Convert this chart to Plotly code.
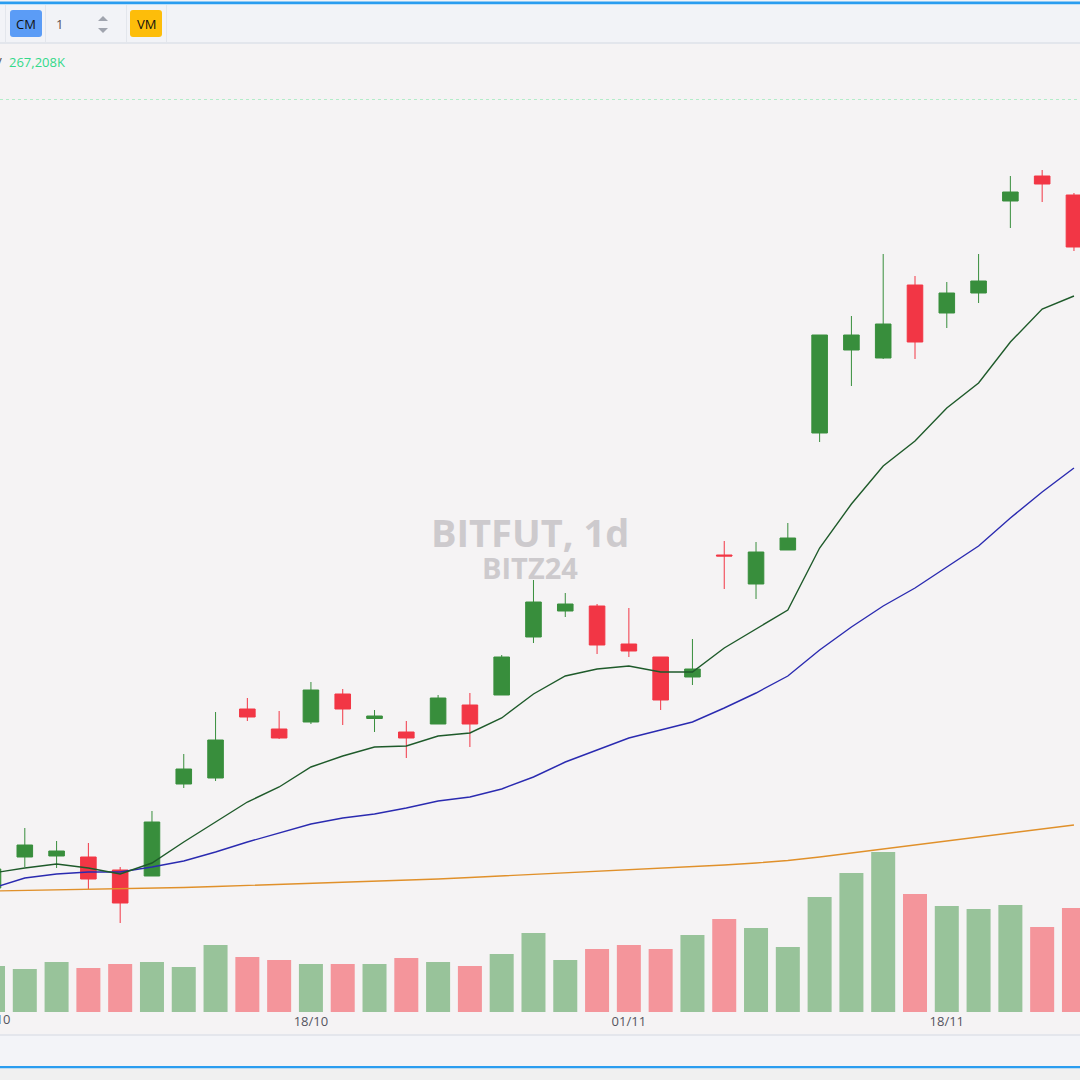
import plotly.graph_objects as go

# ---------------- data (price in arbitrary chart units) ----------------
dates = ["04/10", "07/10", "08/10", "09/10", "10/10", "11/10", "14/10", "15/10", "16/10", "17/10",
         "18/10", "21/10", "22/10", "23/10", "24/10", "25/10", "28/10", "29/10", "30/10", "31/10",
         "01/11", "04/11", "05/11", "06/11", "07/11", "08/11", "11/11", "12/11", "13/11", "14/11",
         "18/11", "19/11", "21/11", "22/11", "25/11"]

opens = [112, 143, 144, 143, 130, 124, 216, 222, 291, 271,
         278, 306, 281.5, 268, 276, 295, 305, 363, 389, 394,
         356, 343, 323, 445, 416, 450, 567, 650, 642, 715,
         687, 707, 799, 824, 805]
highs = [135, 172, 159, 157, 133, 189, 246, 288, 302, 289,
         318, 311, 290, 279, 305, 307, 345, 420, 407, 396,
         392, 343, 361, 459, 458, 477, 665, 684, 746, 724,
         718, 746, 824, 830, 807]
lows = [110, 133, 132, 111, 77, 124, 212, 219, 279, 261,
        276, 275, 268, 242, 276, 253, 305, 357, 383, 346,
        343, 290, 315, 411, 401, 450, 558, 614, 641, 641,
        672, 697, 772, 798, 749]
closes = [131, 155, 149, 121, 97, 178, 231, 260, 283, 262,
          310, 291, 284, 262, 302, 276, 343, 398, 396, 355,
          349, 300, 331, 444, 448, 462, 665, 665, 676, 658,
          707, 719, 808, 816, 753]

volumes_k = [118200, 110500, 128400, 113000, 123300, 128400, 115600, 172100, 141300, 133600,
             123300, 123300, 123300, 138700, 128400, 118200, 149000, 203000, 133600, 161800,
             172100, 161800, 197800, 238900, 215800, 167000, 295400, 357100, 411000, 303100,
             272300, 264600, 274900, 218400, 267208]

ma_short = [127, 132, 136, 132, 126, 137, 158, 178, 198, 213,
            233, 244, 253, 254, 264, 267, 282, 306, 324, 331,
            334, 328, 328, 352, 371, 390, 452, 496, 534, 559,
            592, 617, 658, 691, 704]
ma_mid = [112, 122, 126, 128, 128, 133, 139, 148, 158, 167,
          176, 182, 186, 192, 199, 203, 211, 223, 238, 250,
          262, 270, 278, 292, 307, 324, 350, 373, 394, 412,
          433, 454, 482, 508, 532]
ma_long = [109, 109.5, 110, 110.5, 111, 112, 112.5, 113.5, 114.5, 115.5,
           116.5, 117.5, 119, 120, 121, 122.5, 124, 125.5, 127, 129,
           130.5, 132, 133.5, 135, 137, 139.5, 143, 147, 151, 155,
           159, 163, 167, 171, 175]

tick_labels = ["18/10", "01/11", "18/11"]
first_label = "04/10"
symbol_title = "BITFUT, 1d"
symbol_sub = "BITZ24"
last_volume_text = "267,208K"

# ---------------- styling / layout helpers ----------------
W, H = 1080, 1080
PLOT_H = 1012  # plot area height in px (bottom margin holds axis labels + status strips)
BG = "#f5f3f4"
UP, DOWN = "#388e3c", "#f23645"
UP_VOL, DOWN_VOL = "#98c39a", "#f4959b"
FONT = "Open Sans"


def px(x):
    return x / W


def py(y):
    return (PLOT_H - y) / PLOT_H


vol_colors = [UP_VOL if c >= o else DOWN_VOL for o, c in zip(opens, closes)]

fig = go.Figure()

fig.add_trace(go.Bar(
    x=dates, y=volumes_k, marker=dict(color=vol_colors, line=dict(width=0)),
    yaxis="y", hoverinfo="skip"))

fig.add_trace(go.Candlestick(
    x=dates, open=opens, high=highs, low=lows, close=closes, yaxis="y2",
    increasing=dict(line=dict(color=UP, width=1), fillcolor=UP),
    decreasing=dict(line=dict(color=DOWN, width=1), fillcolor=DOWN),
    whiskerwidth=0))

fig.add_trace(go.Scatter(x=dates, y=ma_long, mode="lines", yaxis="y2",
                         line=dict(color="#e0902a", width=1.4)))
fig.add_trace(go.Scatter(x=dates, y=ma_mid, mode="lines", yaxis="y2",
                         line=dict(color="#2a2ab0", width=1.4)))
fig.add_trace(go.Scatter(x=dates, y=ma_short, mode="lines", yaxis="y2",
                         line=dict(color="#1e5a2a", width=1.4)))

shapes = []


def rect(x0, y0, x1, y1, color, layer="below"):
    shapes.append(dict(type="rect", xref="paper", yref="paper",
                       x0=px(x0), x1=px(x1), y0=py(y1), y1=py(y0),
                       fillcolor=color, line=dict(width=0), layer=layer))


def rounded(x0, y0, x1, y1, r, color):
    X0, X1, Y0, Y1 = px(x0), px(x1), py(y1), py(y0)
    rx, ry = r / W, r / PLOT_H
    path = (f"M{X0+rx},{Y0} L{X1-rx},{Y0} Q{X1},{Y0} {X1},{Y0+ry} "
            f"L{X1},{Y1-ry} Q{X1},{Y1} {X1-rx},{Y1} L{X0+rx},{Y1} "
            f"Q{X0},{Y1} {X0},{Y1-ry} L{X0},{Y0+ry} Q{X0},{Y0} {X0+rx},{Y0} Z")
    shapes.append(dict(type="path", xref="paper", yref="paper", path=path,
                       fillcolor=color, line=dict(width=0), layer="above"))


def tri(points, color):
    p = " L".join(f"{px(a)},{py(b)}" for a, b in points)
    shapes.append(dict(type="path", xref="paper", yref="paper", path="M" + p + " Z",
                       fillcolor=color, line=dict(width=0), layer="above"))


# top toolbar
rect(0, 0, 1080, 44, "#f2f3f7", "above")
rect(0, 1.5, 1080, 4, "#2a9df0", "above")
rect(0, 4, 1080, 5, "#bfe0f8", "above")
rect(0, 42, 1080, 44, "#e3e6ec", "above")
for sx in (5, 45, 126, 166):
    rect(sx, 5, sx + 1, 42, "#e3e6ec", "above")
rounded(10, 10, 42, 37, 3, "#5b9cf6")
rounded(130, 10, 162, 37, 3, "#fdbd0a")
tri([(98, 21), (108, 21), (103, 16)], "#a0a4ae")
tri([(98, 28), (108, 28), (103, 33)], "#a0a4ae")

# dotted pane line
shapes.append(dict(type="line", xref="paper", yref="paper", x0=0, x1=1, y0=py(99.5), y1=py(99.5),
                   line=dict(color="#b3ecc9", width=1, dash="dot"), layer="below"))

# bottom strips
rect(0, 1034, 1080, 1036, "#e4e6ec")
rect(0, 1036, 1080, 1066, "#f3f4f8")
rect(0, 1066, 1080, 1068.5, "#2a9df0")
rect(0, 1068.5, 1080, 1080, "#f0f0f0")


def note(text, x, y, size, color, xanchor="center", bold=False):
    return dict(text=f"<b>{text}</b>" if bold else text, x=px(x), y=py(y),
                xref="paper", yref="paper", showarrow=False,
                xanchor=xanchor, yanchor="middle",
                font=dict(family=FONT, size=size, color=color))


annotations = [
    note("CM", 26, 24, 13, "#111111"),
    note("VM", 146, 24, 13, "#111111"),
    note("1", 54, 23.5, 13, "#5a4f4f", "left"),
    note("V", 4, 62, 13, "#555555", "right"),
    note(last_volume_text, 7, 62, 13, "#33d98a", "left"),
    note(symbol_title, 530, 532, 38, "#cdcacd", bold=True),
    note(symbol_sub, 530, 567, 29, "#cdcacd", bold=True),
    note(first_label, -7, 1019, 13, "#555560"),
]

fig.update_layout(
    width=W, height=H,
    margin=dict(l=0, r=0, t=0, b=H - PLOT_H),
    paper_bgcolor=BG, plot_bgcolor=BG,
    showlegend=False, bargap=0.245, boxgap=0.3,
    xaxis=dict(type="category", range=[0.22, 34.19], rangeslider=dict(visible=False),
               showgrid=False, zeroline=False, showline=False, ticks="",
               tickmode="array", tickvals=tick_labels, ticktext=tick_labels,
               tickfont=dict(family=FONT, size=13, color="#555560")),
    yaxis=dict(range=[0, 2600000], visible=False, fixedrange=True),
    yaxis2=dict(range=[-12, 1000], overlaying="y", visible=False),
    shapes=shapes, annotations=annotations,
)

fig.write_html("out.html")
